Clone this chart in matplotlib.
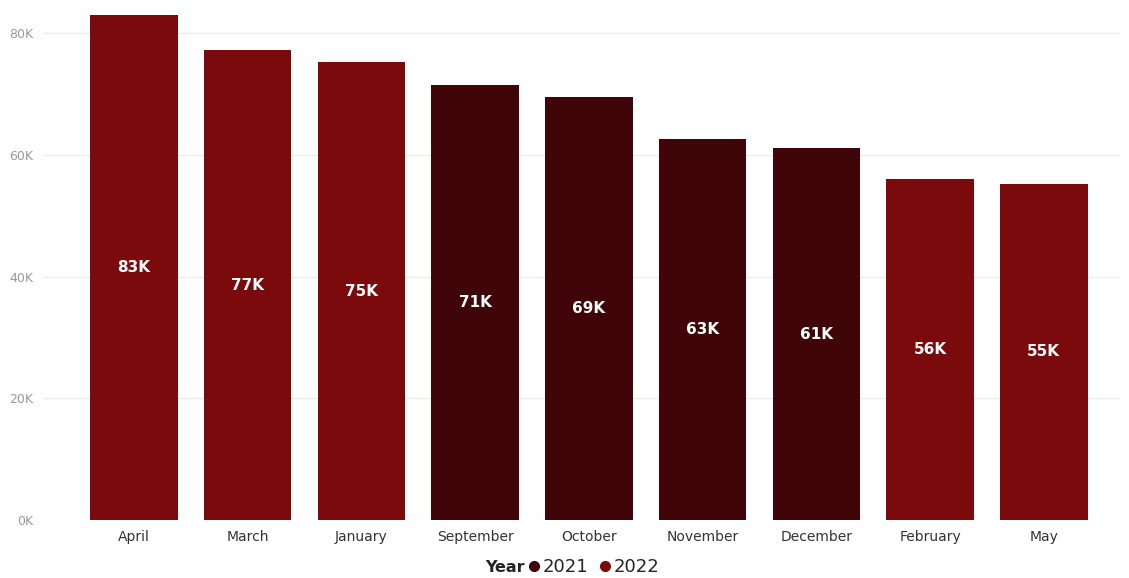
import matplotlib.pyplot as plt
from matplotlib.lines import Line2D

months = ["April", "March", "January", "September", "October",
          "November", "December", "February", "May"]
values = [83.0, 77.2, 75.2, 71.5, 69.5, 62.6, 61.1, 56.0, 55.2]  # thousands
years = [2022, 2022, 2022, 2021, 2021, 2021, 2021, 2022, 2022]
labels = ["83K", "77K", "75K", "71K", "69K", "63K", "61K", "56K", "55K"]

year_colors = {2021: "#400508", 2022: "#7B0A0C"}

fig = plt.figure(figsize=(11.29, 5.78), dpi=100)
ax = fig.add_axes([44 / 1129, 1 - 520 / 578, 1076 / 1129, 505 / 578])

x = range(len(months))
bars = ax.bar(x, values, width=0.77, color=[year_colors[y] for y in years], zorder=2)

for b, lab in zip(bars, labels):
    ax.text(b.get_x() + b.get_width() / 2, b.get_height() / 2, lab,
            ha="center", va="center", color="white", fontsize=11,
            fontweight="bold", zorder=3)

ax.set_xlim(-0.79, 8.67)
ax.set_ylim(0, 82.96)
ax.set_yticks([0, 20, 40, 60, 80])
ax.set_yticklabels(["0K", "20K", "40K", "60K", "80K"])
ax.set_xticks(list(x))
ax.set_xticklabels(months)
ax.tick_params(axis="y", length=0, labelsize=9, labelcolor="#999999", pad=8)
ax.tick_params(axis="x", length=0, labelsize=10, labelcolor="#333333", pad=7)
ax.grid(axis="y", color="#ececec", linewidth=1, zorder=0)
for s in ax.spines.values():
    s.set_visible(False)

# legend along the bottom
fig.text(485 / 1129, 1 - 567 / 578, "Year", fontsize=11.5, fontweight="bold",
         color="#252423", ha="left", va="center")
handles = [Line2D([], [], marker="o", linestyle="", markersize=7,
                  color=year_colors[y]) for y in (2021, 2022)]
fig.legend(handles, ["2021", "2022"], loc="center", ncol=2,
           bbox_to_anchor=(592 / 1129, 1 - 567 / 578), frameon=False,
           fontsize=13, handletextpad=0.0, columnspacing=0.4,
           handlelength=1.0, labelcolor="#252423")

fig.savefig("out.png", dpi=100)
